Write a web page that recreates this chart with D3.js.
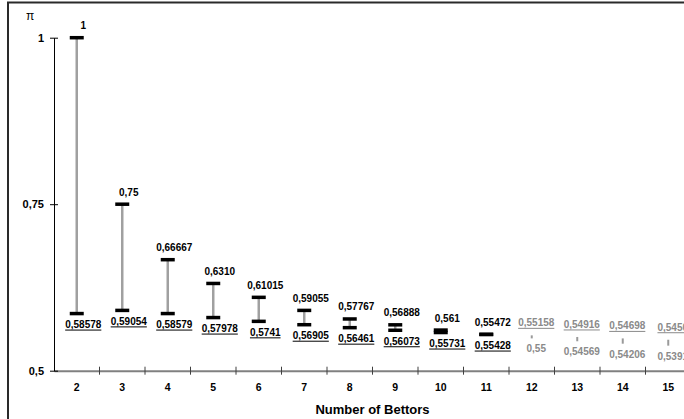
<!DOCTYPE html>
<html>
<head>
<meta charset="utf-8">
<script src="https://cdn.jsdelivr.net/npm/d3@7"></script>
<style>
  html, body { margin: 0; padding: 0; background: #fff; overflow: hidden; }
  svg { display: block; font-family: "Liberation Sans", Arial, sans-serif; }
</style>
</head>
<body>
<svg id="chart" width="684" height="419"></svg>
<script>
// Number of bettors on the x axis
const categories = [2, 3, 4, 5, 6, 7, 8, 9, 10, 11, 12, 13, 14, 15];
// Upper and lower bound of π for each number of bettors, as printed
const upperLabels = ["1", "0,75", "0,66667", "0,6310", "0,61015", "0,59055", "0,57767",
                     "0,56888", "0,561", "0,55472", "0,55158", "0,54916", "0,54698", "0,5450"];
const lowerLabels = ["0,58578", "0,59054", "0,58579", "0,57978", "0,5741", "0,56905", "0,56461",
                     "0,56073", "0,55731", "0,55428", "0,55", "0,54569", "0,54206", "0,5391"];
// Bettor counts whose bounds are shown in grey
const greyCategories = [12, 13, 14, 15];
const yTicks = [0.5, 0.75, 1];

const toNum = s => +s.replace(",", ".");
const upper = upperLabels.map(toNum);
const lower = lowerLabels.map(toNum);

const data = categories.map((c, i) => ({
  c, hi: upper[i], lo: lower[i], hiLabel: upperLabels[i], loLabel: lowerLabels[i],
  grey: greyCategories.includes(c)
}));

const svg = d3.select("#chart");

// Outer frame (extends past the right and bottom edges)
svg.append("rect")
  .attr("x", 8).attr("y", 2.5).attr("width", 720).attr("height", 440)
  .attr("fill", "none").attr("stroke", "#2a2a2a").attr("stroke-width", 2);

const left = 54, step = 45.5;
const x = d3.scaleBand().domain(categories).range([left, left + step * categories.length]).padding(0);
const y = d3.scaleLinear().domain([0.5, 1]).range([370.7, 37.7]);
const fmt = d => String(d).replace(".", ",");

// X axis: grey baseline, labels under band centres
const xAxis = svg.append("g").attr("transform", `translate(0,${y(0.5)})`)
  .call(d3.axisBottom(x).tickSize(0).tickSizeOuter(0).tickPadding(13));
xAxis.select(".domain").attr("stroke", "#808080").attr("stroke-width", 2);
xAxis.selectAll(".tick text")
  .attr("font-size", 10.5).attr("font-weight", "bold").attr("fill", "#000")
  .attr("font-family", "'Liberation Sans', Arial, sans-serif");

// Tick marks between bands
svg.append("g").selectAll("line")
  .data(categories.slice(1))
  .join("line")
  .attr("x1", d => x(d)).attr("x2", d => x(d))
  .attr("y1", y(0.5) - 4).attr("y2", y(0.5) + 4)
  .attr("stroke", "#404040").attr("stroke-width", 1);

// Y axis
const yAxis = svg.append("g").attr("transform", `translate(${left},0)`)
  .call(d3.axisLeft(y).tickValues(yTicks).tickFormat(fmt).tickSize(4).tickSizeOuter(0).tickPadding(6));
yAxis.select(".domain").attr("stroke", "#000").attr("stroke-width", 1);
yAxis.selectAll(".tick line").attr("x1", 4).attr("stroke", "#000");
yAxis.selectAll(".tick text")
  .attr("font-size", 11).attr("font-weight", "bold").attr("fill", "#000")
  .attr("font-family", "'Liberation Sans', Arial, sans-serif");

// Axis titles
svg.append("text").attr("x", 26).attr("y", 20)
  .attr("font-size", 12).text("π");
svg.append("text").attr("x", left + step * categories.length / 2).attr("y", 414)
  .attr("text-anchor", "middle").attr("font-size", 13).attr("font-weight", "bold")
  .text("Number of Bettors");

// Range marks
const cx = d => x(d.c) + x.bandwidth() / 2;
const g = svg.append("g");

g.selectAll("line.range")
  .data(data)
  .join("line")
  .attr("class", "range")
  .attr("x1", cx).attr("x2", cx)
  .attr("y1", d => y(d.lo)).attr("y2", d => y(d.hi))
  .attr("stroke", d => d.grey ? "#9a9a9a" : "#a0a0a0")
  .attr("stroke-width", d => d.grey ? 2 : 2.5)
  .attr("stroke-linecap", d => d.grey ? "square" : "butt");

const capData = data.filter(d => !d.grey).flatMap(d => [{ d, v: d.hi }, { d, v: d.lo }]);
g.selectAll("line.cap")
  .data(capData)
  .join("line")
  .attr("class", "cap")
  .attr("x1", e => cx(e.d) - 7).attr("x2", e => cx(e.d) + 7)
  .attr("y1", e => y(e.v)).attr("y2", e => y(e.v))
  .attr("stroke", "#000").attr("stroke-width", 3.5);

// Value labels; lower bounds (black) and upper bounds (grey) are underlined
const labels = [];
data.forEach(d => {
  const col = d.grey ? "#8a8a8a" : "#000";
  const dx = d.grey ? 4.5 : 6.5;
  labels.push({ x: cx(d) + dx, y: y(d.hi) - (d.grey ? 10 : 8.5), t: d.hiLabel, col, under: d.grey });
  labels.push({ x: cx(d) + dx, y: y(d.lo) + (d.grey ? 15 : 14.5), t: d.loLabel, col, under: !d.grey });
});

const lg = svg.append("g");
labels.forEach(l => {
  const t = lg.append("text")
    .attr("x", l.x).attr("y", l.y)
    .attr("text-anchor", "middle").attr("font-size", 10).attr("font-weight", "bold")
    .attr("fill", l.col).text(l.t);
  if (l.under) {
    const w = t.node().getComputedTextLength();
    lg.append("line")
      .attr("x1", l.x - w / 2).attr("x2", l.x + w / 2)
      .attr("y1", l.y + 2).attr("y2", l.y + 2)
      .attr("stroke", l.col).attr("stroke-width", 1);
  }
});
</script>
</body>
</html>
